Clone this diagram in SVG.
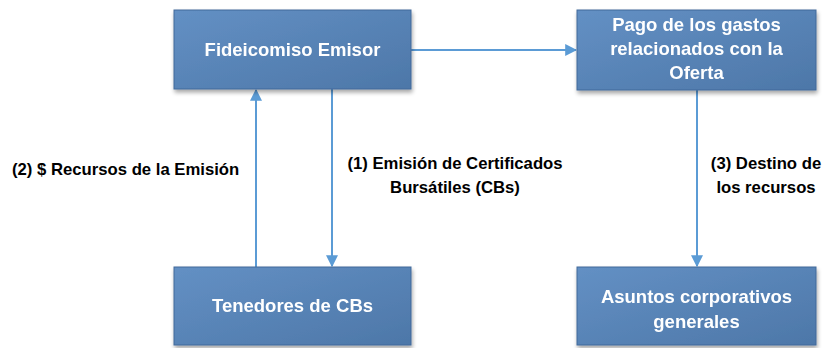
<svg xmlns="http://www.w3.org/2000/svg" width="830" height="348" viewBox="0 0 830 348">
<style>
.box{fill:url(#g);stroke:#41689a;stroke-width:1}
.bt{font-family:"Liberation Sans",Arial,sans-serif;font-weight:bold;font-size:18.5px;fill:#ffffff;text-anchor:middle}
.lb{font-family:"Liberation Sans",Arial,sans-serif;font-weight:bold;font-size:16.7px;fill:#000000}
.ln{stroke:#5b9bd5;stroke-width:2;fill:none}
</style>
<defs>
<linearGradient id="g" x1="0" y1="0" x2="1" y2="1">
<stop offset="0" stop-color="#6390c4"/>
<stop offset="1" stop-color="#4d77a8"/>
</linearGradient>
<filter id="sh" x="-10%" y="-10%" width="130%" height="140%">
<feGaussianBlur in="SourceAlpha" stdDeviation="2"/>
<feOffset dx="1" dy="3"/>
<feComponentTransfer><feFuncA type="linear" slope="0.35"/></feComponentTransfer>
<feMerge><feMergeNode/><feMergeNode in="SourceGraphic"/></feMerge>
</filter>
<marker id="ah" viewBox="0 0 10 10" refX="9" refY="5" markerWidth="6" markerHeight="6" orient="auto" markerUnits="strokeWidth">
<path d="M0,0 L10,5 L0,10 z" fill="#5b9bd5"/>
</marker>
</defs>
<g id="connectors">
<line class="ln" x1="411" y1="50" x2="576" y2="50" marker-end="url(#ah)"/>
<line class="ln" x1="256" y1="267" x2="256" y2="90" marker-end="url(#ah)"/>
<line class="ln" x1="332" y1="89" x2="332" y2="266" marker-end="url(#ah)"/>
<line class="ln" x1="697" y1="90" x2="697" y2="266" marker-end="url(#ah)"/>
</g>
<g id="fideicomiso" filter="url(#sh)">
<rect class="box" x="174" y="10" width="237" height="79"/>
<text class="bt" x="292.5" y="56">Fideicomiso Emisor</text>
</g>
<g id="pago" filter="url(#sh)">
<rect class="box" x="577" y="10" width="239" height="80"/>
<text class="bt" x="696.5" y="31">Pago de los gastos</text>
<text class="bt" x="696.5" y="55">relacionados con la</text>
<text class="bt" x="696.5" y="79">Oferta</text>
</g>
<g id="tenedores" filter="url(#sh)">
<rect class="box" x="174" y="267" width="237" height="78"/>
<text class="bt" x="292.5" y="312">Tenedores de CBs</text>
</g>
<g id="asuntos" filter="url(#sh)">
<rect class="box" x="577" y="267" width="239" height="78"/>
<text class="bt" x="696.5" y="303">Asuntos corporativos</text>
<text class="bt" x="696.5" y="328">generales</text>
</g>
<g id="labels">
<text class="lb" x="12" y="175">(2) $ Recursos de la Emisión</text>
<text class="lb" x="455" y="169" text-anchor="middle">(1) Emisión de Certificados</text>
<text class="lb" x="455" y="193" text-anchor="middle">Bursátiles (CBs)</text>
<text class="lb" x="766" y="169" text-anchor="middle">(3) Destino de</text>
<text class="lb" x="766" y="193" text-anchor="middle">los recursos</text>
</g>
</svg>
